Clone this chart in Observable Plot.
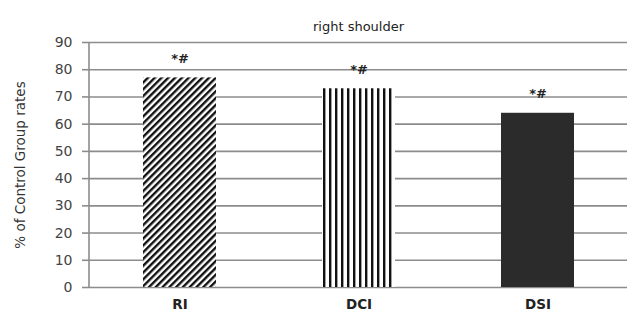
<!DOCTYPE html>
<html><head><meta charset="utf-8">
<script src="https://cdn.jsdelivr.net/npm/d3@7"></script>
<script src="https://cdn.jsdelivr.net/npm/@observablehq/plot@0.6"></script>
<style>body{margin:0;background:#fff}</style>
</head><body><div id="chart"></div>
<script>
const categories = ["RI", "DCI", "DSI"];
const values = [77, 73, 64];
const marks = ["*#", "*#", "*#"];
const fills = ["url(#diag)", "url(#vert)", "#2b2b2b"];
const yTicks = [0, 10, 20, 30, 40, 50, 60, 70, 80, 90];
const title = "right shoulder";
const yLabel = "% of Control Group rates";

const data = categories.map((c, i) => ({cat: c, value: values[i], mark: marks[i], fill: fills[i]}));

const svg = Plot.plot({
  width: 627, height: 313,
  marginLeft: 89, marginRight: 0, marginTop: 42, marginBottom: 26,
  style: {fontFamily: "DejaVu Sans, sans-serif", background: "#fff"},
  x: {domain: categories, paddingInner: 0.593, paddingOuter: 0.296, label: null},
  y: {domain: [0, 90], label: null},
  color: {type: "identity"},
  marks: [
    Plot.ruleY(yTicks, {stroke: "#8c8c8c", strokeWidth: 1.6}),
    Plot.axisY({ticks: yTicks, tickSize: 7, tickPadding: 10, fontSize: 14, fill: "#444", stroke: "#8c8c8c", strokeWidth: 1.6, label: null}),
    Plot.text([yLabel], {frameAnchor: "left", textAnchor: "middle", dx: -69, rotate: -90, fontSize: 13.5, fill: "#333"}),
    Plot.axisX({tickSize: 0, tickPadding: 12, fontSize: 13.5, fontWeight: "bold", fill: "#222", label: null}),
    Plot.barY(data, {x: "cat", y: "value", fill: "fill"}),
    Plot.text(data, {x: "cat", y: "value", text: "mark", dy: -19, fontSize: 13, fontWeight: "bold", fill: "#222"}),
    Plot.ruleX([0], {x: () => null, stroke: "#8c8c8c"}),
    Plot.text([title], {frameAnchor: "top", dy: -21, fontSize: 13, fill: "#222"})
  ]
});

const s = d3.select(svg);
// vertical axis line
s.append("line").attr("x1", 89).attr("x2", 89).attr("y1", 42).attr("y2", 287).attr("stroke", "#8c8c8c").attr("stroke-width", 1.6);

const defs = s.insert("defs", ":first-child");
const p1 = defs.append("pattern").attr("id", "diag").attr("patternUnits", "userSpaceOnUse")
  .attr("width", 4.8).attr("height", 4.8).attr("patternTransform", "rotate(45)");
p1.append("rect").attr("width", 4.8).attr("height", 4.8).attr("fill", "#fff");
p1.append("rect").attr("width", 2.4).attr("height", 4.8).attr("fill", "#111");
const p2 = defs.append("pattern").attr("id", "vert").attr("patternUnits", "userSpaceOnUse")
  .attr("width", 6).attr("height", 6).attr("x", 323);
p2.append("rect").attr("width", 6).attr("height", 6).attr("fill", "#fff");
p2.append("rect").attr("width", 2.4).attr("height", 6).attr("fill", "#111");

document.getElementById("chart").appendChild(svg);
</script></body></html>
